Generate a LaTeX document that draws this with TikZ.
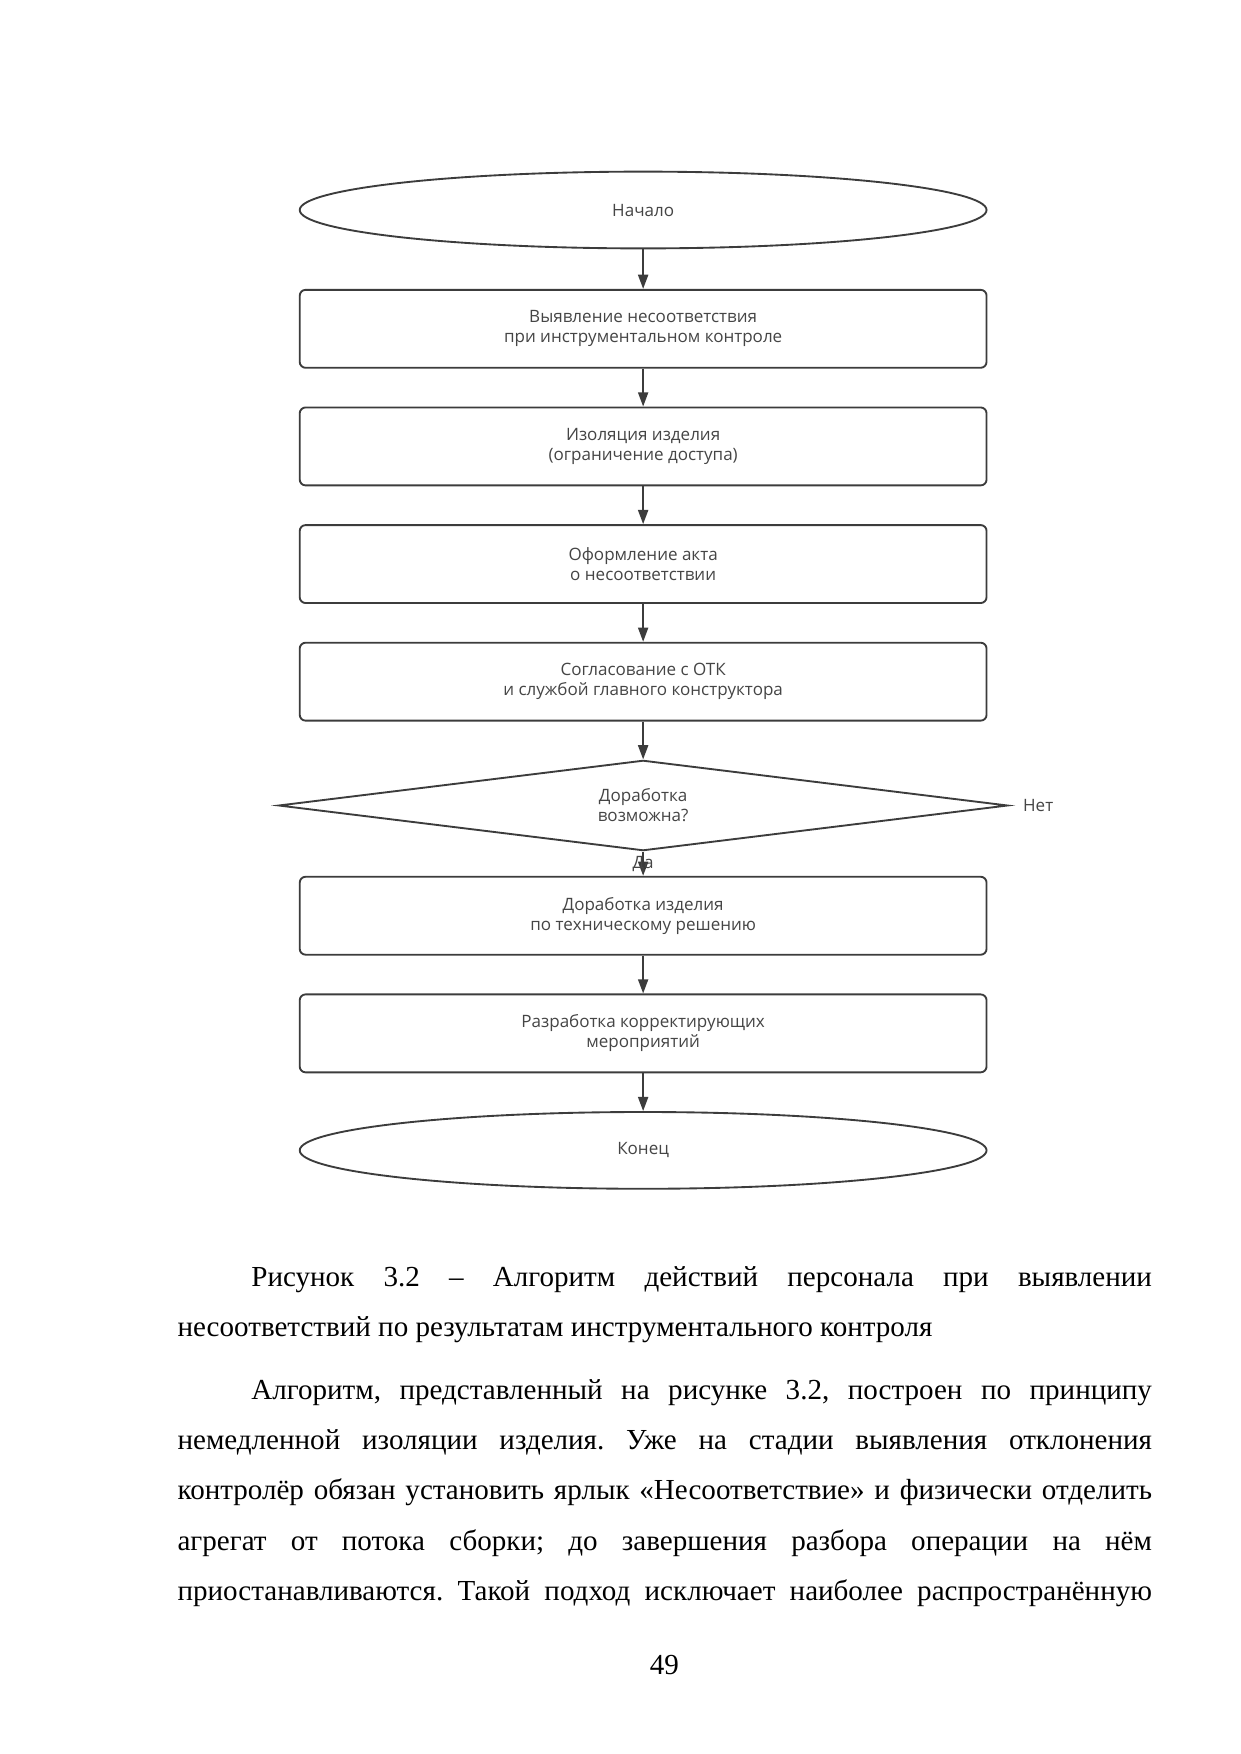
\documentclass[tikz,border=0pt]{standalone}
\usepackage{fontspec}
\setmainfont{Liberation Serif}
\newfontfamily\flowfont{Open Sans}
\usepackage{tikz}
\usetikzlibrary{shapes.geometric, arrows.meta, positioning}
\definecolor{linegray}{HTML}{3C3C3C}
\definecolor{textgray}{HTML}{454545}

\begin{document}
\begin{tikzpicture}[
	node distance=0.64cm,
	flowtext/.style={font=\flowfont\fontsize{8.2}{9.7}\selectfont, text=textgray, align=center},
	term/.style={flowtext, draw=linegray, line width=0.9pt, ellipse, inner sep=0pt,
		minimum width=11.63cm, minimum height=1.30cm},
	stepbox/.style={flowtext, draw=linegray, line width=0.9pt, rectangle, rounded corners=1mm,
		inner sep=0pt, minimum width=11.63cm, minimum height=1.32cm},
	decision/.style={flowtext, draw=linegray, line width=0.9pt, diamond, aspect=8.15, inner sep=0pt,
		minimum width=12.35cm, minimum height=1.53cm},
	flow/.style={draw=linegray, line width=0.9pt, -{Triangle[length=2.4mm,width=1.7mm]}},
	bodytext/.style={anchor=base west, inner sep=0pt, font=\fontsize{14}{24.15}\selectfont\frenchspacing}
	]
	\useasboundingbox (0,0) rectangle (21,-29.7);
	\fill[white] (0,0) rectangle (21,-29.7);
	% flowchart
	\node[term] (start) at (10.89,-3.556) {Начало};
	\node[stepbox, below=0.67cm of start] (detect) {Выявление несоответствия\\при инструментальном контроле};
	\node[stepbox, below=of detect] (isolate) {Изоляция изделия\\(ограничение доступа)};
	\node[stepbox, below=of isolate] (act) {Оформление акта\\о несоответствии};
	\node[stepbox, below=of act] (agree) {Согласование с ОТК\\и службой главного конструктора};
	\node[decision, below=of agree] (check) {Доработка\\возможна?};
	\node[flowtext, right=0.12cm of check.east] (no) {Нет};
	\node[stepbox, below=0.41cm of check] (rework) {Доработка изделия\\по техническому решению};
	\node[stepbox, below=of rework] (measures) {Разработка корректирующих\\мероприятий};
	\node[term, below=of measures] (finish) {Конец};
	\draw[flow] (start) -- (detect);
	\draw[flow] (detect) -- (isolate);
	\draw[flow] (isolate) -- (act);
	\draw[flow] (act) -- (agree);
	\draw[flow] (agree) -- (check);
	\draw[flow] (check) -- node[flowtext, inner sep=0pt] (yes) {Да} (rework);
	\draw[flow] (rework) -- (measures);
	\draw[flow] (measures) -- (finish);
	% caption and text
	\node[bodytext] (caption) at (3,-21.78) {\parbox[t]{16.5cm}{%
		\hspace*{1.25cm}\makebox[15.25cm][s]{Рисунок 3.2 – Алгоритм действий персонала при выявлении}\\
		несоответствий по результатам инструментального контроля}};
	\node[bodytext] (para) at (3,-23.7) {\parbox[t]{16.5cm}{%
		\hspace*{1.25cm}\makebox[15.25cm][s]{Алгоритм, представленный на рисунке 3.2, построен по принципу}\\
		\makebox[16.5cm][s]{немедленной изоляции изделия. Уже на стадии выявления отклонения}\\
		\makebox[16.5cm][s]{контролёр обязан установить ярлык «Несоответствие» и физически отделить}\\
		\makebox[16.5cm][s]{агрегат от потока сборки; до завершения разбора операции на нём}\\
		\makebox[16.5cm][s]{приостанавливаются. Такой подход исключает наиболее распространённую}}};
	\node[anchor=base, inner sep=0pt, font=\fontsize{14}{17}\selectfont] (pagenum) at (11.25,-28.35) {49};
\end{tikzpicture}
\end{document}
